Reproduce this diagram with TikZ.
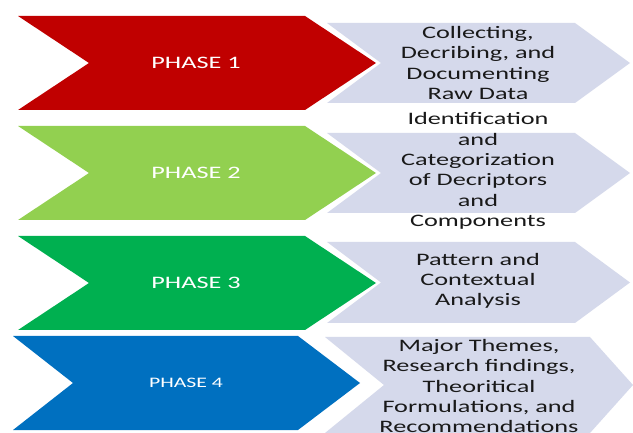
\documentclass[tikz,border=0pt]{standalone}
\usepackage{fontspec}
\setmainfont{Carlito}
\newfontfamily\widefont[FakeStretch=1.5]{Carlito}
\definecolor{phaseA}{HTML}{C00000}
\definecolor{phaseB}{HTML}{92D050}
\definecolor{phaseC}{HTML}{00B050}
\definecolor{phaseD}{HTML}{0070C0}
\definecolor{stepfill}{HTML}{D5D9EB}
% chevron: fill, left x, notch x, top-right x, tip x, top y, bottom y
\newcommand\chevron[7]{%
  \fill[#1] (#2,#6) -- (#4,#6) -- (#5,{(#6+#7)/2}) -- (#4,#7) -- (#2,#7)
    -- (#3,{(#6+#7)/2}) -- cycle;}
\begin{document}
\begin{tikzpicture}[x=1pt,y=-1pt,
  phaselabel/.style={text=white,font=\widefont\fontsize{17.5}{20}\selectfont,inner sep=0pt},
  steplabel/.style={text=black!90,align=center,font=\widefont\fontsize{17.5}{20.3}\selectfont,inner sep=0pt}]
\useasboundingbox (0,0) rectangle (633,433);
\fill[white] (0,0) rectangle (633,433);
% light chevrons behind the coloured ones
\chevron{stepfill}{327}{381}{575}{630}{23}{103}
\chevron{stepfill}{327}{381}{575}{630}{133}{213}
\chevron{stepfill}{327}{381}{575}{630}{242}{323}
\chevron{stepfill}{325}{384}{590}{633}{337}{433}
% coloured phase chevrons
\chevron{phaseA}{18}{89}{305}{376}{16}{110}
\chevron{phaseB}{18}{89}{305}{376}{126}{220}
\chevron{phaseC}{18}{89}{305}{376}{236}{330}
\chevron{phaseD}{13}{73}{298}{360}{336}{430}
% phase names
\node[phaselabel] (p1) at (196,63) {PHASE 1};
\node[phaselabel] (p2) at (196,173) {PHASE 2};
\node[phaselabel] (p3) at (196,283) {PHASE 3};
\node[phaselabel,font=\widefont\fontsize{14.5}{17}\selectfont] (p4) at (186,383) {PHASE 4};
% step descriptions
\node[steplabel] (s1) at (478,63) {Collecting,\\Decribing, and\\Documenting\\Raw Data};
\node[steplabel] (s2) at (478,171) {Identification\\and\\Categorization\\of Decriptors\\and\\Components};
\node[steplabel] (s3) at (478,281) {Pattern and\\Contextual\\Analysis};
\node[steplabel] (s4) at (479,386) {Major Themes,\\Research findings,\\Theoritical\\Formulations, and\\Recommendations};
\end{tikzpicture}
\end{document}
